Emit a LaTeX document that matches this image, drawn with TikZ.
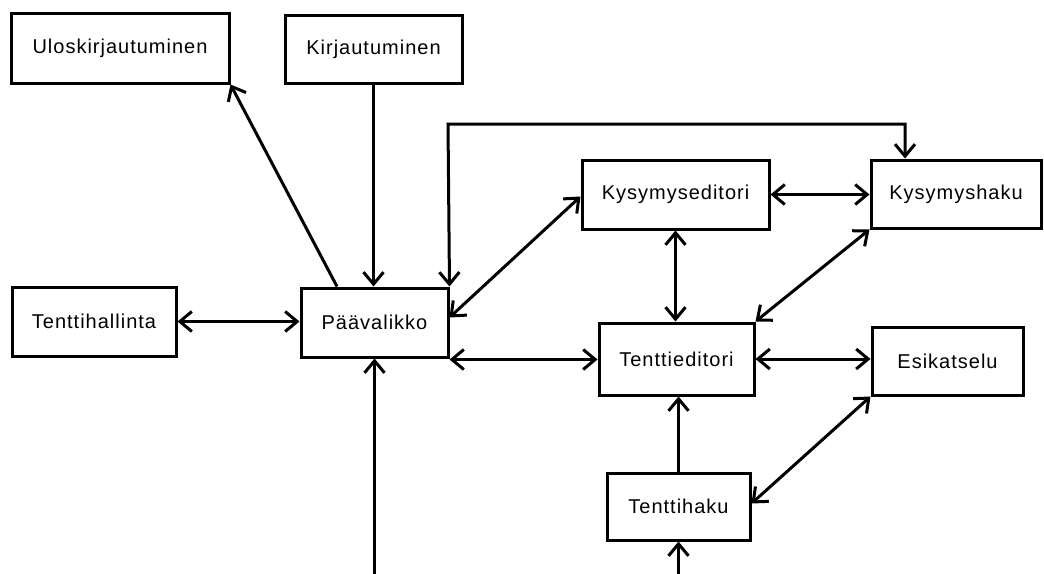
\documentclass[tikz,border=0pt]{standalone}
\usepackage{fontspec}
\setmainfont{Liberation Sans}[LetterSpace=5]
\usetikzlibrary{arrows.meta}
\begin{document}
\begin{tikzpicture}[x=1pt,y=-1pt,
  box/.style={draw=black,line width=3pt,rectangle,inner sep=0pt,font=\fontsize{20}{24}\selectfont},
  conn/.style={line width=3pt,black},
  arr/.style={conn,-{Straight Barb[length=12pt,width=20pt]}},
  barr/.style={conn,{Straight Barb[length=12pt,width=20pt]}-{Straight Barb[length=12pt,width=20pt]}}]
\useasboundingbox (0,0) rectangle (1044,573);
\node[box,minimum width=218,minimum height=70] (ulos) at (120,48) {Uloskirjautuminen};
\node[box,minimum width=177,minimum height=68] (kirj) at (373.5,49) {Kirjautuminen};
\node[box,minimum width=187,minimum height=69] (kyed) at (675.5,194.5) {Kysymyseditori};
\node[box,minimum width=170,minimum height=68] (kyha) at (956,194) {Kysymyshaku};
\node[box,minimum width=164,minimum height=69] (tenh) at (94,321.5) {Tenttihallinta};
\node[box,minimum width=147,minimum height=69] (paav) at (374.5,322.5) {Päävalikko};
\node[box,minimum width=155,minimum height=72] (teed) at (676.5,359) {Tenttieditori};
\node[box,minimum width=151,minimum height=68] (esik) at (947.5,361) {Esikatselu};
\node[box,minimum width=143,minimum height=67] (tehk) at (678.5,506.5) {Tenttihaku};
\coordinate (lt) at (448,124);
\coordinate (rt) at (905,124);
\coordinate (lb) at (374.5,575.5);
\coordinate (rb) at (678.5,575.5);
% connectors
\draw[arr] ([xshift=-37.5pt]paav.north) -- (ulos.south east);
\draw[arr] (kirj.south) -- (kirj.south |- paav.north);
\draw[barr] (paav.north east) -- (lt) -- (rt) -- (rt |- kyha.north);
\draw[barr] ([yshift=5pt]paav.east) -- ([yshift=-2pt]kyed.west);
\draw[barr] ([yshift=-1pt]paav.south east) -- ([yshift=-1pt]paav.south east -| teed.west);
\draw[barr] (tenh.east) -- (tenh.east -| paav.west);
\draw[barr] (kyed.east) -- (kyed.east -| kyha.west);
\draw[barr] (kyed.south) -- (kyed.south |- teed.north);
\draw[barr] (kyha.south west) -- (teed.north east);
\draw[barr] (teed.east) -- (teed.east -| esik.west);
\draw[arr] (tehk.north) -- (tehk.north |- teed.south);
\draw[barr] (esik.south west) -- ([yshift=3pt]tehk.east);
\draw[barr] (paav.south) -- (lb) -- (rb) -- (tehk.south);
\end{tikzpicture}
\end{document}
